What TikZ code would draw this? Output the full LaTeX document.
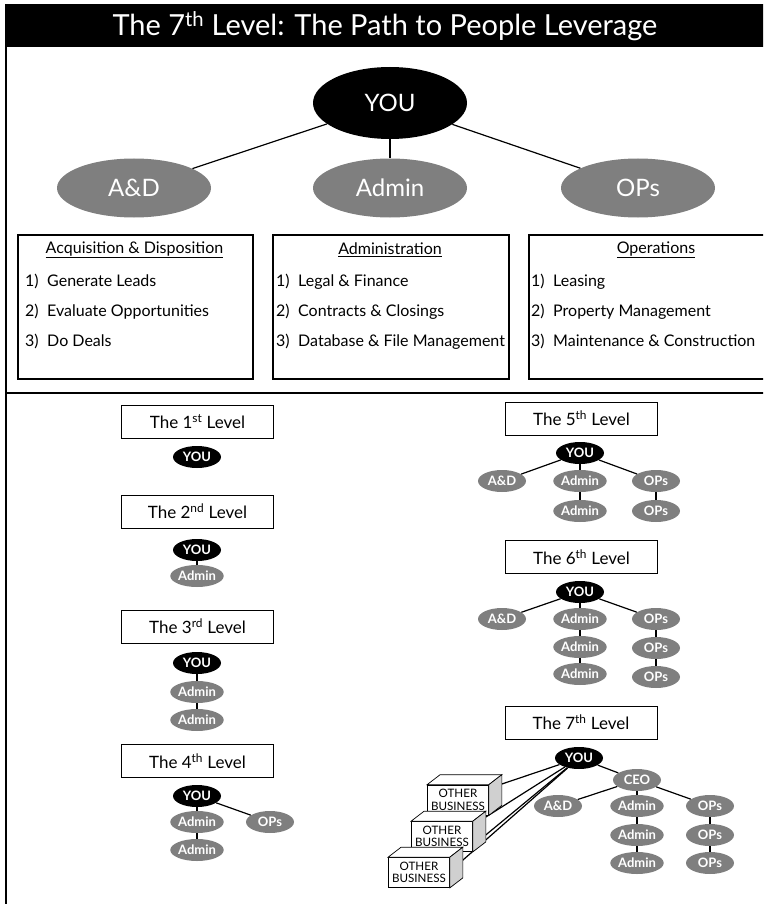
\documentclass[tikz,border=0pt]{standalone}
\usepackage{fontspec}
\setmainfont{Lato}
\usetikzlibrary{shapes.geometric}
\definecolor{midgray}{HTML}{7F7F7F}
\definecolor{sidegray}{HTML}{D0D0D0}
\begin{document}
\begin{tikzpicture}[x=1pt,y=-1pt,
  bigov/.style={ellipse, fill=midgray, text=white, minimum width=154pt, minimum height=59pt, inner sep=0pt, font=\fontsize{24}{27}\selectfont},
  bigyou/.style={bigov, fill=black, minimum height=72pt},
  smallov/.style={ellipse, fill=midgray, text=white, minimum width=48pt, minimum height=22pt, inner sep=0pt, font=\fontsize{13}{15}\selectfont\bfseries},
  smallyou/.style={smallov, fill=black},
  link/.style={draw, line width=1.2pt},
  levelbox/.style={draw, line width=0.8pt, minimum width=152pt, minimum height=33pt, inner sep=0pt, font=\fontsize{17}{20}\selectfont},
  infobox/.style={draw, line width=1.6pt, minimum height=144pt, inner sep=0pt},
  boxhead/.style={inner sep=0pt, font=\fontsize{16}{19}\selectfont},
  item/.style={anchor=west, inner sep=0pt, text height=12pt, text depth=3pt, font=\fontsize{16}{19}\selectfont},
  obfront/.style={draw, fill=white, line width=0.7pt, minimum width=61pt, minimum height=30pt, inner sep=0pt, align=center, font=\fontsize{11.6}{12.5}\selectfont},
  obside/.style={draw, line width=0.7pt, fill=sidegray},
  obtop/.style={draw, line width=0.7pt, fill=white},
  frame/.style={line width=1.8pt}
]
\useasboundingbox (0,0) rectangle (763,904);
\clip (0,0) rectangle (763,904);

% title bar
\fill[black] (5,4) rectangle (770,47);
\node[text=white, font=\fontsize{29}{32}\selectfont] (title) at (385,26) {The 7\textsuperscript{th} Level: The Path to People Leverage};

% frame
\draw[frame] (6,47) -- (6,910);
\draw[frame] (6,393) -- (770,393);

% top tree
\node[bigyou] (you) at (390,103) {YOU};
\node[bigov] (ad) at (134,188) {A\&D};
\node[bigov] (admin) at (390,188) {Admin};
\node[bigov] (ops) at (638,188) {OPs};
\draw[link] (you) -- (ad);
\draw[link] (you) -- (admin);
\draw[link] (you) -- (ops);

% info boxes
\node[infobox, minimum width=235pt, anchor=north west] (b1) at (17,234) {};
\node[infobox, minimum width=236pt, anchor=north west] (b2) at (272,234) {};
\node[infobox, minimum width=262pt, anchor=north west] (b3) at (528,234) {};

\node[boxhead] (h1) at (134.5,250) {\underline{Acquisition \& Disposition}};
\node[item] (i11) at (25,282) {\makebox[22pt][l]{1)}Generate Leads};
\node[item] (i12) at (25,312) {\makebox[22pt][l]{2)}Evaluate Opportunities};
\node[item] (i13) at (25,342) {\makebox[22pt][l]{3)}Do Deals};

\node[boxhead] (h2) at (390,250) {\underline{Administration}};
\node[item] (i21) at (276,282) {\makebox[22pt][l]{1)}Legal \& Finance};
\node[item] (i22) at (276,312) {\makebox[22pt][l]{2)}Contracts \& Closings};
\node[item] (i23) at (276,342) {\makebox[22pt][l]{3)}Database \& File Management};

\node[boxhead] (h3) at (656,250) {\underline{Operations}};
\node[item] (i31) at (531,282) {\makebox[22pt][l]{1)}Leasing};
\node[item] (i32) at (531,312) {\makebox[22pt][l]{2)}Property Management};
\node[item] (i33) at (531,342) {\makebox[22pt][l]{3)}Maintenance \& Construction};

% level 1
\node[levelbox] (l1) at (197.5,421.5) {The 1\textsuperscript{st} Level};
\node[smallyou] (l1y) at (197,457) {YOU};

% level 2
\node[levelbox] (l2) at (197.5,511.5) {The 2\textsuperscript{nd} Level};
\node[smallyou] (l2y) at (197,550) {YOU};
\node[smallov] (l2a) at (197,576) {Admin};
\draw[link] (l2y) -- (l2a);

% level 3
\node[levelbox] (l3) at (197.5,626.5) {The 3\textsuperscript{rd} Level};
\node[smallyou] (l3y) at (197,663) {YOU};
\node[smallov] (l3a) at (197,692) {Admin};
\node[smallov] (l3b) at (197,720) {Admin};
\draw[link] (l3y) -- (l3a);
\draw[link] (l3a) -- (l3b);

% level 4
\node[levelbox] (l4) at (197.5,761) {The 4\textsuperscript{th} Level};
\node[smallyou] (l4y) at (197,796) {YOU};
\node[smallov] (l4a) at (197,822) {Admin};
\node[smallov] (l4b) at (197,850) {Admin};
\node[smallov] (l4o) at (270,822) {OPs};
\draw[link] (l4y) -- (l4a);
\draw[link] (l4a) -- (l4b);
\draw[link] (l4y) -- (l4o);

% level 5
\node[levelbox] (l5) at (581.5,418.5) {The 5\textsuperscript{th} Level};
\node[smallyou] (l5y) at (580,453) {YOU};
\node[smallov] (l5d) at (502,481) {A\&D};
\node[smallov] (l5a) at (580,481) {Admin};
\node[smallov] (l5o) at (656,481) {OPs};
\node[smallov] (l5b) at (580,511) {Admin};
\node[smallov] (l5p) at (656,511) {OPs};
\draw[link] (l5y) -- (l5d);
\draw[link] (l5y) -- (l5a);
\draw[link] (l5y) -- (l5o);
\draw[link] (l5a) -- (l5b);
\draw[link] (l5o) -- (l5p);

% level 6
\node[levelbox] (l6) at (581.5,557) {The 6\textsuperscript{th} Level};
\node[smallyou] (l6y) at (580,592) {YOU};
\node[smallov] (l6d) at (502,619) {A\&D};
\node[smallov] (l6a) at (580,619) {Admin};
\node[smallov] (l6o) at (656,619) {OPs};
\node[smallov] (l6b) at (580,647) {Admin};
\node[smallov] (l6p) at (656,648) {OPs};
\node[smallov] (l6c) at (580,674) {Admin};
\node[smallov] (l6q) at (656,677) {OPs};
\draw[link] (l6y) -- (l6d);
\draw[link] (l6y) -- (l6a);
\draw[link] (l6y) -- (l6o);
\draw[link] (l6a) -- (l6b);
\draw[link] (l6b) -- (l6c);
\draw[link] (l6o) -- (l6p);
\draw[link] (l6p) -- (l6q);

% level 7
\node[levelbox] (l7) at (581,722.5) {The 7\textsuperscript{th} Level};
\node[smallyou] (l7y) at (579,758) {YOU};
\node[smallov] (l7c) at (637,780) {CEO};
\node[smallov] (l7d) at (558,806) {A\&D};
\node[smallov] (l7a) at (637,806) {Admin};
\node[smallov] (l7o) at (710,806) {OPs};
\node[smallov] (l7b) at (637,835) {Admin};
\node[smallov] (l7p) at (710,835) {OPs};
\node[smallov] (l7e) at (637,863) {Admin};
\node[smallov] (l7q) at (710,863) {OPs};
\draw[link] (l7y) -- (l7c);
\draw[link] (l7c) -- (l7d);
\draw[link] (l7c) -- (l7a);
\draw[link] (l7c) -- (l7o);
\draw[link] (l7a) -- (l7b);
\draw[link] (l7b) -- (l7e);
\draw[link] (l7o) -- (l7p);
\draw[link] (l7p) -- (l7q);

% lines to other businesses (ends hidden inside boxes)
\coordinate (t1) at (490,788);
\coordinate (t2) at (478,822);
\coordinate (t3) at (476,843);
\coordinate (t4) at (455,867);
\draw[link] (l7y) -- (t1);
\draw[link] (l7y) -- (t2);
\draw[link] (l7y) -- (t3);
\draw[link] (l7y) -- (t4);

% other business boxes
\foreach \n/\cx/\cy in {ob1/458/800, ob2/442/836.5, ob3/419/872.5}{
  \node[obfront] (\n) at (\cx,\cy) {OTHER\\BUSINESS};
  \draw[obtop] (\n.north west) -- ([shift={(13,-10)}]\n.north west) -- ([shift={(13,-10)}]\n.north east) -- (\n.north east) -- cycle;
  \draw[obside] (\n.north east) -- ([shift={(13,-10)}]\n.north east) -- ([shift={(13,-10)}]\n.south east) -- (\n.south east) -- cycle;
}
\end{tikzpicture}
\end{document}
